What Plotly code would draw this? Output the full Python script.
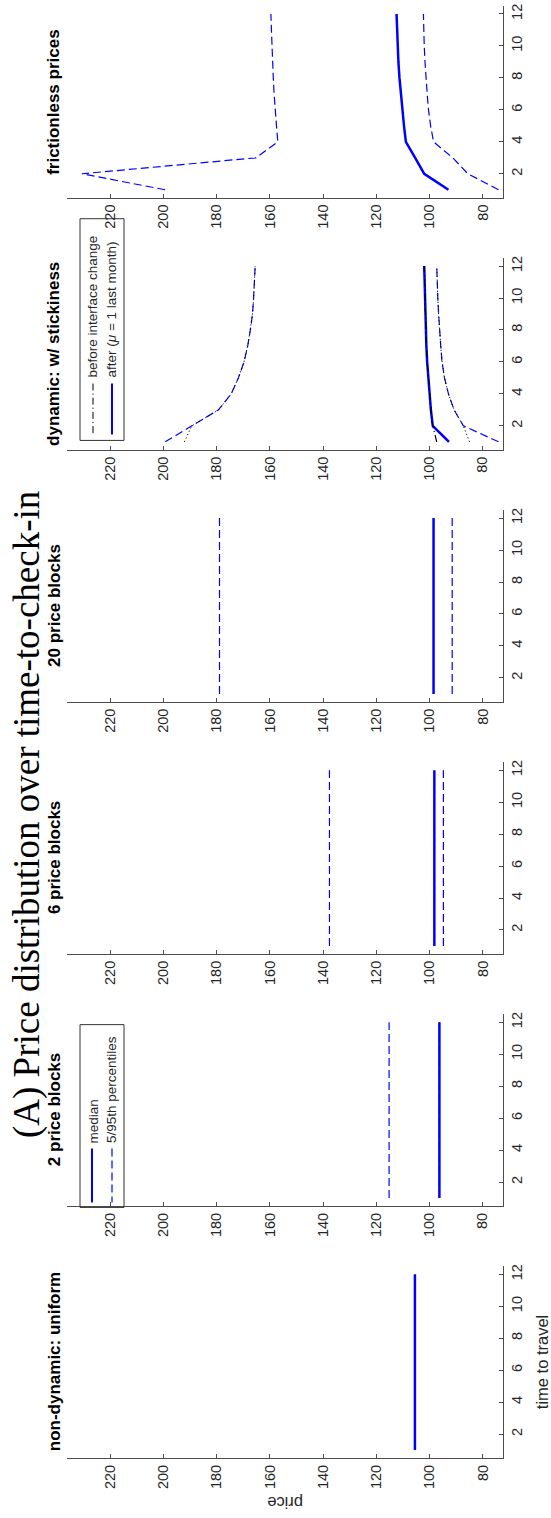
import plotly.graph_objects as go

W, H = 551, 1518

# ---------------- data ----------------
months = list(range(1, 13))
price_ticks = [80, 100, 120, 140, 160, 180, 200, 220]
time_ticks = [2, 4, 6, 8, 10, 12]

panel_titles = ["non-dynamic: uniform", "2 price blocks", "6 price blocks",
                "20 price blocks", "dynamic: w/ stickiness", "frictionless prices"]

uniform_median = [105.5] * 12

blocks2_median = [96.3] * 12
blocks2_p5 = [96.3] * 12
blocks2_p95 = [115.2] * 12

blocks6_median = [98.2] * 12
blocks6_p5 = [94.8] * 12
blocks6_p95 = [137.6] * 12

blocks20_median = [98.5] * 12
blocks20_p5 = [91.5] * 12
blocks20_p95 = [178.9] * 12

dyn_after_median = [92.7, 98.8, 99.5, 100.0, 100.5, 100.9, 101.2, 101.4, 101.6, 101.8, 101.9, 102.0]
dyn_before_median = [97.3, 98.8, 99.5, 100.0, 100.5, 100.9, 101.2, 101.4, 101.6, 101.8, 101.9, 102.0]
dyn_after_p95 = [199.3, 189.3, 179.3, 174.5, 171.8, 169.7, 168.3, 167.3, 166.5, 166.1, 165.8, 165.5]
dyn_before_p95 = [192.1, 189.3, 179.3, 174.5, 171.8, 169.7, 168.3, 167.3, 166.5, 166.1, 165.8, 165.5]
dyn_after_p5 = [74.1, 87.3, 90.8, 92.9, 94.4, 95.3, 95.8, 96.3, 96.6, 96.9, 97.1, 97.3]
dyn_before_p5 = [85.0, 87.3, 90.8, 92.9, 94.4, 95.3, 95.8, 96.3, 96.6, 96.9, 97.1, 97.3]

fric_median = [92.9, 102.0, 105.4, 108.9, 109.6, 110.2, 110.8, 111.3, 111.7, 112.0, 112.2, 112.4]
fric_p5 = [74.1, 85.6, 91.3, 98.5, 99.6, 100.4, 100.9, 101.4, 101.7, 102.0, 102.2, 102.3]
fric_p95 = [199.3, 230.6, 165.2, 157.0, 157.5, 158.0, 158.4, 158.7, 159.0, 159.2, 159.4, 159.6]

# ---------------- styling ----------------
BLUE = "#0000ff"
AXC = "#4d4d4d"
TXT = "#262626"
SANS = "Liberation Sans, Arial, sans-serif"
SERIF = "Liberation Serif, Times New Roman, serif"
DASH = "8px,4px"
DOT = "1.2px,2.5px"
DASHDOT = "7px,3px,1.2px,3px"


def px(x):
    return x / W


def py(y):
    return 1 - y / H


X0, X1 = 66.7, 503.3
bottoms = [1458 - 252.4 * i for i in range(6)]
PH = 192

fig = go.Figure()


def add(i, yvals, color, width, dash):
    fig.add_trace(go.Scatter(
        x=yvals, y=months, mode="lines",
        line=dict(color=color, width=width, dash=dash),
        xaxis=f"x{i + 1}", yaxis=f"y{i + 1}", showlegend=False, hoverinfo="skip"))


# panel 1
add(0, uniform_median, BLUE, 2.5, "solid")
# panel 2
add(1, blocks2_p5, BLUE, 1.2, DASH)
add(1, blocks2_p95, BLUE, 1.2, DASH)
add(1, blocks2_median, BLUE, 2.5, "solid")
# panel 3
add(2, blocks6_p5, BLUE, 1.2, DASH)
add(2, blocks6_p95, BLUE, 1.2, DASH)
add(2, blocks6_median, BLUE, 2.5, "solid")
# panel 4
add(3, blocks20_p5, BLUE, 1.2, DASH)
add(3, blocks20_p95, BLUE, 1.2, DASH)
add(3, blocks20_median, BLUE, 2.5, "solid")
# panel 5
add(4, dyn_after_p5, BLUE, 1.2, DASH)
add(4, dyn_after_p95, BLUE, 1.2, DASH)
add(4, dyn_before_p5, "black", 1.0, DOT)
add(4, dyn_before_p95, "black", 1.0, DOT)
add(4, dyn_after_median, BLUE, 2.5, "solid")
add(4, dyn_before_median, "black", 1.2, DASHDOT)
# panel 6
add(5, fric_p5, BLUE, 1.2, DASH)
add(5, fric_p95, BLUE, 1.2, DASH)
add(5, fric_median, BLUE, 2.5, "solid")

layout = dict(
    width=W, height=H, margin=dict(l=0, r=0, t=0, b=0),
    paper_bgcolor="white", plot_bgcolor="white", showlegend=False,
)
for i in range(6):
    b = bottoms[i]
    t = b - PH
    layout[f"xaxis{i + 1}"] = dict(
        domain=[px(X0), px(X1)], anchor=f"y{i + 1}",
        range=[236.3, 72.3], tickvals=price_ticks,
        ticks="inside", ticklen=4, tickwidth=1, tickcolor=AXC,
        tickangle=-90, showline=True, linecolor=AXC, linewidth=1,
        showgrid=False, zeroline=False,
        tickfont=dict(family=SANS, size=14.5, color=TXT))
    layout[f"yaxis{i + 1}"] = dict(
        domain=[py(b), py(t)], anchor=f"x{i + 1}", side="right",
        range=[0.5, 12.5], tickvals=time_ticks,
        ticks="inside", ticklen=4, tickwidth=1, tickcolor=AXC,
        tickangle=-90, showline=True, linecolor=AXC, linewidth=1,
        showgrid=False, zeroline=False,
        tickfont=dict(family=SANS, size=14.5, color=TXT))

annotations = []
shapes = []


def ann(text, x, y, size, family=SANS, angle=-90, xanchor="center", yanchor="middle",
        weight="normal", color=TXT):
    annotations.append(dict(
        text=text, x=px(x), y=py(y), xref="paper", yref="paper",
        showarrow=False, textangle=angle, xanchor=xanchor, yanchor=yanchor,
        font=dict(family=family, size=size, color=color, weight=weight)))


# main title
ann("(A) Price distribution over time-to-check-in", 27, 1140, 37, family=SERIF,
    yanchor="bottom", color="black")

# panel titles
for i, title in enumerate(panel_titles):
    ann(title, 54, bottoms[i] - PH / 2, 17, weight="bold", color="black")

# axis labels (first panel only)
ann("time to travel", 542, bottoms[0] - PH / 2, 16.5)
ann("price", 285, 1503, 16.5, angle=180)


def seg(x, y0, y1, color, width, dash):
    shapes.append(dict(type="line", xref="paper", yref="paper",
                       x0=px(x), x1=px(x), y0=py(y0), y1=py(y1),
                       line=dict(color=color, width=width, dash=dash)))


def box(x0, x1, y0, y1):
    shapes.append(dict(type="rect", xref="paper", yref="paper",
                       x0=px(x0), x1=px(x1), y0=py(y0), y1=py(y1),
                       line=dict(color="#333333", width=1), fillcolor="rgba(0,0,0,0)"))


# legend on panel 2
box(80, 124, 1024, 1207)
seg(92, 1148, 1202, BLUE, 2, "solid")
seg(112, 1148, 1202, BLUE, 1.2, DASH)
ann("median", 93, 1145, 13.5, yanchor="bottom")
ann("5/95th percentiles", 112, 1145, 13.5, yanchor="bottom")

# legend on panel 5
box(80, 124, 217, 439)
seg(93, 382, 433, "black", 1, DASHDOT)
seg(112, 382, 433, BLUE, 2, "solid")
ann("before interface change", 93, 378, 13.5, yanchor="bottom")
ann("after (<i>μ</i> = 1 last month)", 112, 378, 13.5, yanchor="bottom")

layout["annotations"] = annotations
layout["shapes"] = shapes
fig.update_layout(**layout)
fig.write_html("out.html")
